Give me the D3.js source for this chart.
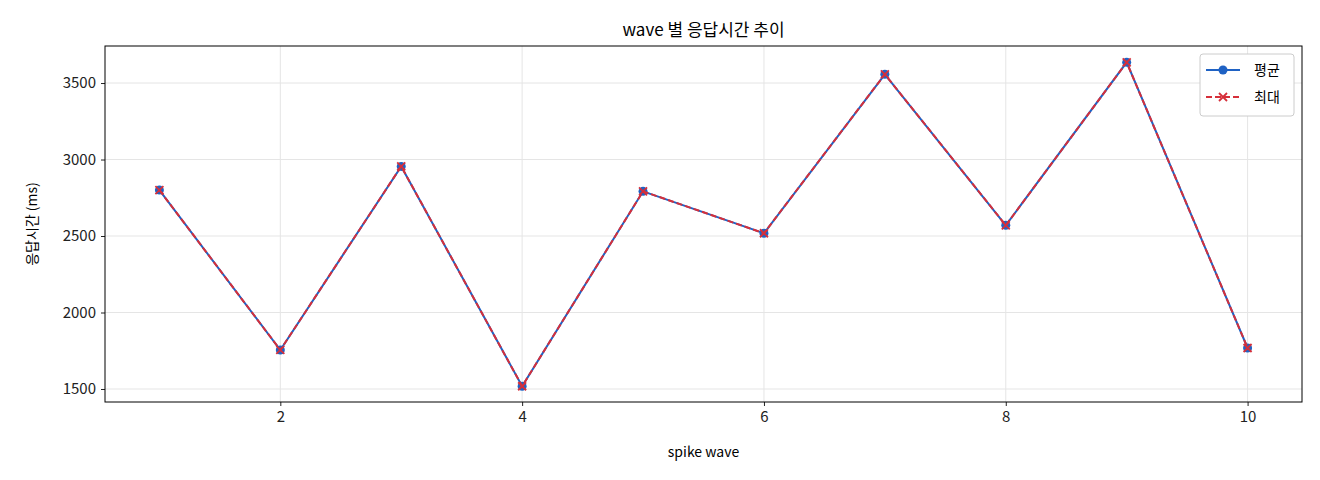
<!DOCTYPE html>
<html><head><meta charset="utf-8">
<script src="https://cdn.jsdelivr.net/npm/d3@7"></script>
<style>body{margin:0;background:#fff}text{font-family:"Noto Sans CJK KR","Noto Sans",sans-serif}</style>
</head><body><svg id="c" width="1320" height="480"></svg>
<script>
// data
const waves = [1,2,3,4,5,6,7,8,9,10];
const avgMs = [2800,1755,2955,1518,2792,2518,3557,2570,3635,1768];
const maxMs = [2800,1755,2955,1518,2792,2518,3557,2570,3635,1768];
const xTicks = [2,4,6,8,10];
const yTicks = [1500,2000,2500,3000,3500];

const m = {left:105, right:1302, top:46, bottom:402};
const svg = d3.select("#c");
const x = d3.scaleLinear().domain([0.55,10.45]).range([m.left,m.right]);
const y = d3.scaleLinear().domain([1415,3742]).range([m.bottom,m.top]);

// grid
svg.append("g").selectAll("line").data(xTicks).join("line")
  .attr("x1",d=>x(d)).attr("x2",d=>x(d)).attr("y1",m.top).attr("y2",m.bottom)
  .attr("stroke","#e5e5e5");
svg.append("g").selectAll("line").data(yTicks).join("line")
  .attr("y1",d=>y(d)).attr("y2",d=>y(d)).attr("x1",m.left).attr("x2",m.right)
  .attr("stroke","#e5e5e5");

const ax = svg.append("g").attr("transform",`translate(0,${m.bottom})`)
  .call(d3.axisBottom(x).tickValues(xTicks).tickFormat(d3.format("d")).tickSize(4).tickPadding(5));
const ay = svg.append("g").attr("transform",`translate(${m.left},0)`)
  .call(d3.axisLeft(y).tickValues(yTicks).tickFormat(d3.format("d")).tickSize(4).tickPadding(5));
[ax,ay].forEach(a=>{a.select(".domain").remove();a.selectAll("text").attr("font-size",15).attr("fill","#222");a.selectAll("line").attr("stroke","#222");});

svg.append("rect").attr("x",m.left).attr("y",m.top).attr("width",m.right-m.left).attr("height",m.bottom-m.top)
  .attr("fill","none").attr("stroke","#000");

const line = d3.line().x((d,i)=>x(waves[i])).y(d=>y(d));
svg.append("path").datum(avgMs).attr("d",line).attr("fill","none").attr("stroke","#1f62c4").attr("stroke-width",2);
svg.append("g").selectAll("circle").data(avgMs).join("circle")
  .attr("cx",(d,i)=>x(waves[i])).attr("cy",d=>y(d)).attr("r",4.5).attr("fill","#1f62c4");
svg.append("path").datum(maxMs).attr("d",line).attr("fill","none").attr("stroke","#d62f3a").attr("stroke-width",2).attr("stroke-dasharray","6,3");
svg.append("g").selectAll("path").data(maxMs).join("path")
  .attr("d",(d,i)=>{const cx=x(waves[i]),cy=y(d),s=4;return `M${cx-s},${cy-s}L${cx+s},${cy+s}M${cx-s},${cy+s}L${cx+s},${cy-s}`;})
  .attr("stroke","#d62f3a").attr("stroke-width",1.8);

svg.append("text").attr("x",(m.left+m.right)/2).attr("y",36).attr("text-anchor","middle").attr("font-size",17).text("wave 별 응답시간 추이");
svg.append("text").attr("x",(m.left+m.right)/2).attr("y",457).attr("text-anchor","middle").attr("font-size",14).text("spike wave");
svg.append("text").attr("transform",`translate(37,${(m.top+m.bottom)/2}) rotate(-90)`).attr("text-anchor","middle").attr("font-size",14).text("응답시간 (ms)");

// legend
const lg = svg.append("g").attr("transform","translate(1200,54)");
lg.append("rect").attr("width",94).attr("height",62).attr("rx",3).attr("fill","#fff").attr("stroke","#ccc");
lg.append("line").attr("x1",6).attr("x2",40).attr("y1",16).attr("y2",16).attr("stroke","#1f62c4").attr("stroke-width",2);
lg.append("circle").attr("cx",23).attr("cy",16).attr("r",4.5).attr("fill","#1f62c4");
lg.append("text").attr("x",54).attr("y",21).attr("font-size",14).text("평균");
lg.append("line").attr("x1",6).attr("x2",40).attr("y1",43).attr("y2",43).attr("stroke","#d62f3a").attr("stroke-width",2).attr("stroke-dasharray","6,3");
lg.append("path").attr("d","M19,39L27,47M19,47L27,39").attr("stroke","#d62f3a").attr("stroke-width",1.8);
lg.append("text").attr("x",54).attr("y",48).attr("font-size",14).text("최대");
</script></body></html>
